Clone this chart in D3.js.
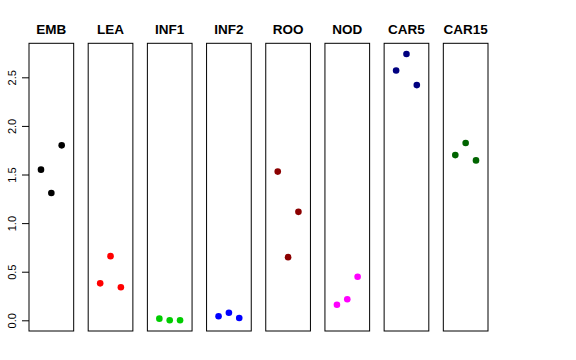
<!DOCTYPE html>
<html>
<head>
<meta charset="utf-8">
<script src="https://cdn.jsdelivr.net/npm/d3@7"></script>
<style>
  body { margin: 0; background: #fff; }
  svg { display: block; font-family: "Liberation Sans", Arial, sans-serif; }
</style>
</head>
<body>
<svg></svg>
<script>
// tissues, one panel each
var tissues = ['EMB', 'LEA', 'INF1', 'INF2', 'ROO', 'NOD', 'CAR5', 'CAR15'];
var colors = ['#000000', '#FF0000', '#00CD00', '#0000FF', '#8B0000', '#FF00FF', '#000080', '#006400'];

// replicate positions and values (3 reps per tissue)
var reps = [1, 2, 3];
var rep1 = [1.55, 0.38, 0.017, 0.041, 1.53, 0.16, 2.57, 1.70];
var rep2 = [1.31, 0.66, 0.0, 0.078, 0.65, 0.216, 2.74, 1.825];
var rep3 = [1.80, 0.34, 0.0, 0.024, 1.116, 0.448, 2.42, 1.645];

var yTicks = [0, 0.5, 1, 1.5, 2, 2.5];

var w = 576,
    h = 360;

var svg = d3.select('svg')
    .attr('width', w)
    .attr('height', h);

// panel layout
var panelX = d3.scaleBand()
    .domain(tissues)
    .range([29, 488])
    .paddingInner(0.245)
    .paddingOuter(0);

var y = d3.scaleLinear()
    .domain([-0.11, 2.85])
    .range([331, 43.3]);

var x = d3.scaleLinear()
    .domain([-0.16, 4.16])
    .range([0, panelX.bandwidth()]);

var data = tissues.map(function(t, i) {
    return {
        tissue: t,
        color: colors[i],
        values: [rep1[i], rep2[i], rep3[i]]
    };
});

var panels = svg.selectAll('.panel')
    .data(data)
    .enter()
    .append('g')
    .attr('class', 'panel')
    .attr('transform', function(d) {
        return 'translate(' + panelX(d.tissue) + ',0)';
    });

panels.append('rect')
    .attr('x', 0)
    .attr('y', y.range()[1])
    .attr('width', panelX.bandwidth())
    .attr('height', y.range()[0] - y.range()[1])
    .attr('fill', 'none')
    .attr('stroke', '#000')
    .attr('stroke-width', 1);

panels.append('text')
    .attr('x', panelX.bandwidth() / 2)
    .attr('y', 34)
    .attr('text-anchor', 'middle')
    .attr('font-weight', 'bold')
    .attr('font-size', 13.5)
    .text(function(d) { return d.tissue; });

panels.selectAll('circle')
    .data(function(d) {
        return d.values.map(function(v, j) {
            return { rep: reps[j], value: v, color: d.color };
        });
    })
    .enter()
    .append('circle')
    .attr('cx', function(d) { return x(d.rep); })
    .attr('cy', function(d) { return y(d.value); })
    .attr('r', 3.3)
    .attr('fill', function(d) { return d.color; });

// y axis on first panel only
var yAxis = d3.axisLeft(y)
    .tickValues(yTicks)
    .tickSize(7)
    .tickPadding(0)
    .tickFormat(d3.format('.1f'));

var axisG = svg.append('g')
    .attr('transform', 'translate(' + panelX(tissues[0]) + ',0)')
    .call(yAxis);

axisG.select('.domain').remove();
axisG.selectAll('.tick line').attr('stroke', '#000');
axisG.selectAll('.tick text')
    .attr('x', null)
    .attr('dy', null)
    .attr('font-size', 11)
    .attr('font-family', '"Liberation Sans", Arial, sans-serif')
    .attr('fill', '#000')
    .attr('text-anchor', 'middle')
    .attr('transform', 'translate(-13,0) rotate(-90)');
</script>
</body>
</html>
